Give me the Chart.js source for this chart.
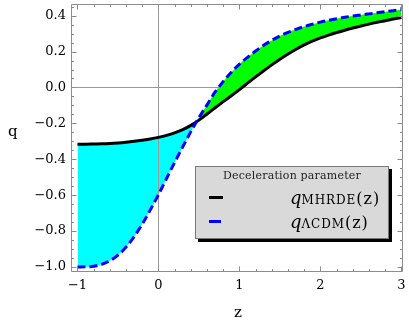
<!DOCTYPE html>
<html><head><meta charset="utf-8">
<script src="https://cdn.jsdelivr.net/npm/chart.js@4.4.1/dist/chart.umd.min.js"></script>
<style>
html,body{margin:0;padding:0;background:#fff;}
#wrap{position:relative;width:409px;height:327px;overflow:hidden;}
canvas{display:block;}
.lbl{position:absolute;font-family:"DejaVu Serif",serif;color:#000;line-height:1;}
#legend{position:absolute;left:195px;top:166px;width:194px;height:73px;background:#d9d9d9;border:1px solid #777;box-shadow:3px 3px 0 #000;box-sizing:border-box;font-family:"DejaVu Serif",serif;}
#legend .t{position:absolute;left:0;width:100%;top:3px;text-align:center;font-size:11px;line-height:12px;color:#222;letter-spacing:0.2px;}
#legend .m{position:absolute;left:13px;width:14px;}
#legend .e{position:absolute;left:94px;font-size:16px;line-height:18px;white-space:nowrap;letter-spacing:1px;}
#legend .e i{font-size:18px;letter-spacing:0;}
#legend .e .s{font-size:12px;letter-spacing:0.9px;}
</style></head>
<body><div id="wrap"><canvas id="c" width="409" height="327"></canvas>
<div class="lbl" style="left:8px;top:124px;font-size:15px;">q</div>
<div class="lbl" style="left:234px;top:305px;font-size:15px;">z</div>
<div id="legend">
  <div class="t">Deceleration parameter</div>
  <div class="m" style="top:29px;height:3px;background:#000;"></div>
  <div class="e" style="top:22px;"><i>q</i><span class="s">MHRDE</span>(z)</div>
  <div class="m" style="top:53px;height:3px;width:12px;background:#0000ff;"></div>
  <div class="e" style="top:46px;"><i>q</i><span class="s">ΛCDM</span>(z)</div>
</div>
</div>
<script>
const zValues = [-1.0,-0.9,-0.8,-0.7,-0.6,-0.5,-0.4,-0.3,-0.2,-0.1,0.0,0.1,0.2,0.3,0.4,0.5,0.6,0.7,0.8,0.9,1.0,1.1,1.2,1.3,1.4,1.5,1.6,1.7,1.8,1.9,2.0,2.1,2.2,2.3,2.4,2.5,2.6,2.7,2.8,2.9,3.0];
const qMHRDE = [-0.316,-0.316,-0.315,-0.314,-0.312,-0.309,-0.305,-0.300,-0.294,-0.287,-0.278,-0.267,-0.253,-0.235,-0.211,-0.182,-0.148,-0.113,-0.079,-0.046,-0.012,0.024,0.059,0.093,0.126,0.157,0.186,0.213,0.237,0.258,0.276,0.292,0.306,0.319,0.331,0.342,0.353,0.363,0.372,0.381,0.390];
const qLCDM = [-1.000,-0.999,-0.996,-0.985,-0.965,-0.934,-0.889,-0.831,-0.761,-0.681,-0.597,-0.507,-0.417,-0.330,-0.246,-0.168,-0.097,-0.025,0.033,0.085,0.130,0.168,0.203,0.235,0.262,0.287,0.307,0.324,0.339,0.352,0.364,0.374,0.383,0.391,0.398,0.404,0.410,0.416,0.422,0.428,0.433];
const xTicks = [-1,0,1,2,3];
const yTicks = [-1.0,-0.8,-0.6,-0.4,-0.2,0.0,0.2,0.4];

const fmt = (v,d) => { const s = Math.abs(v).toFixed(d); return (v < -1e-9 ? '\u2212' : '') + s; };

const framePlugin = {
  id: 'frame',
  beforeDatasetsDraw(chart) {
    const {ctx, chartArea: a, scales: {x, y}} = chart;
    ctx.save();
    ctx.strokeStyle = '#9a9a9a';
    ctx.lineWidth = 1;
    const x0 = Math.round(x.getPixelForValue(0)) + 0.5;
    const y0 = Math.round(y.getPixelForValue(0)) + 0.5;
    ctx.beginPath();
    ctx.moveTo(x0, a.top); ctx.lineTo(x0, a.bottom);
    ctx.moveTo(a.left, y0); ctx.lineTo(a.right, y0);
    ctx.stroke();
    ctx.restore();
  },
  afterDraw(chart) {
    const {ctx, chartArea: a, scales: {x, y}} = chart;
    ctx.save();
    ctx.strokeStyle = '#8c8c8c';
    ctx.lineWidth = 1;
    const L = Math.round(a.left) + 0.5, R = Math.round(a.right) - 0.5;
    const T = Math.round(a.top) + 0.5, B = Math.round(a.bottom) - 0.5;
    ctx.beginPath();
    ctx.rect(L, T, R - L, B - T);
    for (let i = -5; i <= 15; i++) {
      const v = i / 5, px = Math.round(x.getPixelForValue(v)) + 0.5;
      const len = (i % 5 === 0) ? 5 : 2.5;
      ctx.moveTo(px, B); ctx.lineTo(px, B - len);
      ctx.moveTo(px, T); ctx.lineTo(px, T + len);
    }
    for (let i = -20; i <= 9; i++) {
      const v = i / 20, py = Math.round(y.getPixelForValue(v)) + 0.5;
      const len = (i % 4 === 0) ? 5 : 2.5;
      ctx.moveTo(L, py); ctx.lineTo(L + len, py);
      ctx.moveTo(R, py); ctx.lineTo(R - len, py);
    }
    ctx.stroke();
    ctx.restore();
  }
};

const tickFont = {family: 'DejaVu Serif', size: 13};

new Chart(document.getElementById('c'), {
  type: 'line',
  data: {
    datasets: [
      {
        label: 'q_MHRDE(z)',
        data: zValues.map((z, i) => ({x: z, y: qMHRDE[i]})),
        borderColor: '#000000',
        borderWidth: 3,
        pointRadius: 0,
        fill: false,
        cubicInterpolationMode: 'monotone',
        order: 2
      },
      {
        label: 'q_ΛCDM(z)',
        data: zValues.map((z, i) => ({x: z, y: qLCDM[i]})),
        borderColor: '#0000ff',
        borderWidth: 3,
        borderDash: [8, 4],
        pointRadius: 0,
        fill: {target: 0, above: '#00ff00', below: '#00ffff'},
        cubicInterpolationMode: 'monotone',
        order: 1
      }
    ]
  },
  options: {
    responsive: false,
    animation: false,
    devicePixelRatio: 1,
    layout: {padding: {left: 0, right: 6, top: 4, bottom: 0}},
    plugins: {legend: {display: false}, tooltip: {enabled: false}, filler: {drawTime: 'beforeDatasetsDraw'}},
    scales: {
      x: {
        type: 'linear', min: -1.08, max: 3.02,
        afterBuildTicks: s => { s.ticks = xTicks.map(v => ({value: v})); },
        afterFit: s => { s.height = 55; s.paddingLeft = 0; s.paddingRight = 0; },
        grid: {display: false, drawTicks: false},
        border: {display: false},
        ticks: {font: tickFont, color: '#000', padding: 6, maxRotation: 0, callback: v => fmt(v, 0)}
      },
      y: {
        type: 'linear', min: -1.028, max: 0.465,
        afterBuildTicks: s => { s.ticks = yTicks.map(v => ({value: v})); },
        afterFit: s => { s.width = 71; s.paddingTop = 0; s.paddingBottom = 0; },
        grid: {display: false, drawTicks: false},
        border: {display: false},
        ticks: {font: tickFont, color: '#000', padding: 5, callback: v => fmt(v, 1)}
      }
    }
  },
  plugins: [framePlugin]
});
</script>
</body></html>
